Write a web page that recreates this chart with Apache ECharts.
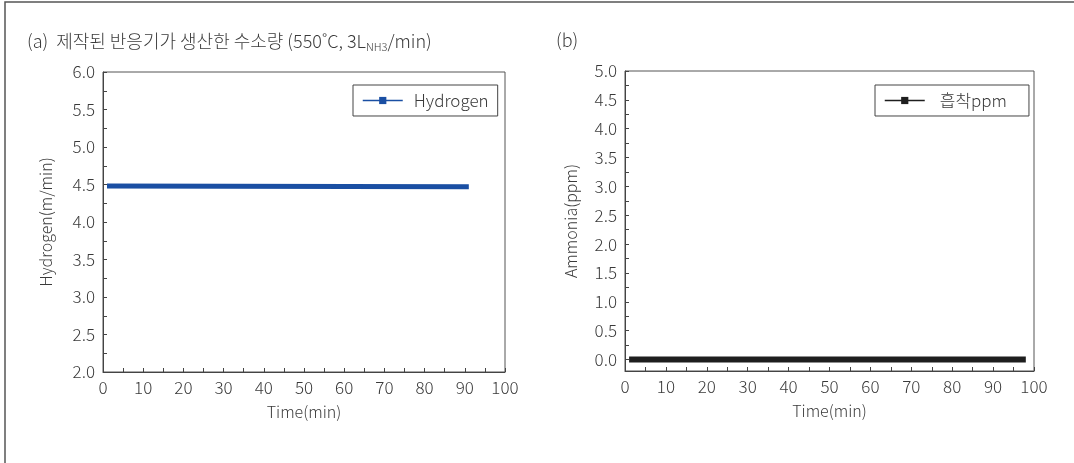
<!DOCTYPE html>
<html>
<head>
<meta charset="utf-8">
<script src="https://cdn.jsdelivr.net/npm/echarts@6/dist/echarts.min.js"></script>
<style>
  html, body { margin: 0; padding: 0; background: #fff; }
  #main { width: 1074px; height: 463px; }
</style>
</head>
<body>
<div id="main"></div>
<script>
"use strict";

var hydrogenTime = [1, 91];
var hydrogenValues = [4.48, 4.47];
var ammoniaTime = [1, 98];
var ammoniaValues = [0.0, 0.0];

var xTicks = [0, 10, 20, 30, 40, 50, 60, 70, 80, 90, 100];
var hydrogenYTicks = [2.0, 2.5, 3.0, 3.5, 4.0, 4.5, 5.0, 5.5, 6.0];
var ammoniaYTicks = [0.0, 0.5, 1.0, 1.5, 2.0, 2.5, 3.0, 3.5, 4.0, 4.5, 5.0];
var ammoniaMinorTicks = [0.0, 0.25, 0.5, 0.75, 1.0, 1.25, 1.5, 1.75, 2.0, 2.25, 2.5, 2.75,
    3.0, 3.25, 3.5, 3.75, 4.0, 4.25, 4.5, 4.75, 5.0];

var myChart = echarts.init(document.getElementById('main'));
var fontFam = '"Noto Sans CJK KR", "Noto Sans", sans-serif';
var txtColor = '#3a3a3a';
var lineColor = '#444';
var fw = 300;

function pairs(xs, ys) {
    var out = [];
    for (var i = 0; i < xs.length; i++) out.push([xs[i], ys[i]]);
    return out;
}

function xAxisOf(gridIndex) {
    return {
        type: 'value',
        gridIndex: gridIndex,
        min: 0,
        max: 100,
        interval: 10,
        name: 'Time(min)',
        nameLocation: 'middle',
        nameGap: 32,
        nameTextStyle: { color: txtColor, fontSize: 16, fontWeight: fw, fontFamily: fontFam },
        axisLine: { show: true, onZero: false, lineStyle: { color: lineColor, width: 1 } },
        axisTick: { show: true, inside: true, length: 4, lineStyle: { color: lineColor } },
        minorTick: { show: true, splitNumber: 2, length: 4, lineStyle: { color: lineColor } },
        axisLabel: {
            color: txtColor, fontSize: 17, fontWeight: fw, fontFamily: fontFam, margin: 7,
            customValues: xTicks
        },
        splitLine: { show: false }
    };
}

var option = {
    backgroundColor: '#fff',
    animation: false,
    graphic: [
        {
            type: 'rect',
            shape: { x: 5, y: 2, width: 1200, height: 600 },
            style: { fill: 'none', stroke: '#555', lineWidth: 1.5 },
            silent: true
        }
    ],
    title: [
        {
            left: 27,
            top: 31,
            padding: 0,
            text: '(a)  제작된 반응기가 생산한 수소량 (550˚C, 3L{sub|NH3}/min)',
            textStyle: {
                color: txtColor, fontSize: 18, fontWeight: fw, fontFamily: fontFam,
                rich: {
                    sub: { fontSize: 11, fontWeight: fw, color: txtColor, fontFamily: fontFam, verticalAlign: 'bottom', padding: [10, 0, 0, 0] }
                }
            }
        },
        {
            left: 556,
            top: 31,
            padding: 0,
            text: '(b)',
            textStyle: { color: txtColor, fontSize: 18, fontWeight: fw, fontFamily: fontFam }
        }
    ],
    legend: [
        {
            data: ['Hydrogen'],
            left: 353,
            top: 85,
            padding: [7, 9, 7, 9],
            itemWidth: 40,
            itemHeight: 9,
            borderColor: '#444',
            borderWidth: 1,
            backgroundColor: '#fff',
            lineStyle: { width: 1.5 },
            textStyle: { color: txtColor, fontSize: 17, fontWeight: fw, fontFamily: fontFam, padding: [0, 0, 0, 6] }
        },
        {
            data: ['흡착ppm'],
            left: 875,
            top: 85,
            padding: [7, 22, 7, 9],
            itemWidth: 40,
            itemHeight: 9,
            borderColor: '#444',
            borderWidth: 1,
            backgroundColor: '#fff',
            lineStyle: { width: 1.5 },
            textStyle: { color: txtColor, fontSize: 17, fontWeight: fw, fontFamily: fontFam, padding: [0, 0, 0, 10] }
        }
    ],
    grid: [
        { left: 103, right: 569, top: 72, bottom: 91, show: true, borderColor: '#555', borderWidth: 1, backgroundColor: 'transparent' },
        { left: 625, right: 40, top: 71, bottom: 92, show: true, borderColor: '#555', borderWidth: 1, backgroundColor: 'transparent' }
    ],
    xAxis: [xAxisOf(0), xAxisOf(1)],
    yAxis: [
        {
            type: 'value',
            gridIndex: 0,
            min: 2,
            max: 6,
            interval: 0.5,
            name: 'Hydrogen(m/min)',
            nameLocation: 'middle',
            nameGap: 49,
            nameTextStyle: { color: txtColor, fontSize: 16, fontWeight: fw, fontFamily: fontFam },
            axisLine: { show: true, lineStyle: { color: lineColor, width: 1 } },
            axisTick: { show: true, inside: true, length: 4, lineStyle: { color: lineColor } },
            minorTick: { show: true, splitNumber: 2, length: 4, lineStyle: { color: lineColor } },
            axisLabel: {
                color: txtColor, fontSize: 17, fontWeight: fw, fontFamily: fontFam, margin: 8,
                customValues: hydrogenYTicks,
                formatter: function (v) { return v.toFixed(1); }
            },
            splitLine: { show: false }
        },
        {
            type: 'value',
            gridIndex: 1,
            min: -0.2,
            max: 5,
            name: 'Ammonia(ppm)',
            nameLocation: 'middle',
            nameGap: 46,
            nameTextStyle: { color: txtColor, fontSize: 16, fontWeight: fw, fontFamily: fontFam },
            axisLine: { show: true, lineStyle: { color: lineColor, width: 1 } },
            axisTick: { show: true, inside: true, length: 4, lineStyle: { color: lineColor }, customValues: ammoniaMinorTicks },
            axisLabel: {
                color: txtColor, fontSize: 17, fontWeight: fw, fontFamily: fontFam, margin: 8,
                customValues: ammoniaYTicks,
                formatter: function (v) { return v.toFixed(1); }
            },
            splitLine: { show: false }
        }
    ],
    series: [
        {
            name: 'Hydrogen',
            type: 'line',
            xAxisIndex: 0,
            yAxisIndex: 0,
            data: pairs(hydrogenTime, hydrogenValues),
            symbol: 'rect',
            symbolSize: 9,
            showSymbol: false,
            color: '#1a4fa3',
            lineStyle: { color: '#1a4fa3', width: 5 }
        },
        {
            name: '흡착ppm',
            type: 'line',
            xAxisIndex: 1,
            yAxisIndex: 1,
            data: pairs(ammoniaTime, ammoniaValues),
            symbol: 'rect',
            symbolSize: 9,
            showSymbol: false,
            color: '#1e1e1e',
            lineStyle: { color: '#1e1e1e', width: 6 }
        }
    ]
};
myChart.setOption(option);
</script>
</body>
</html>
